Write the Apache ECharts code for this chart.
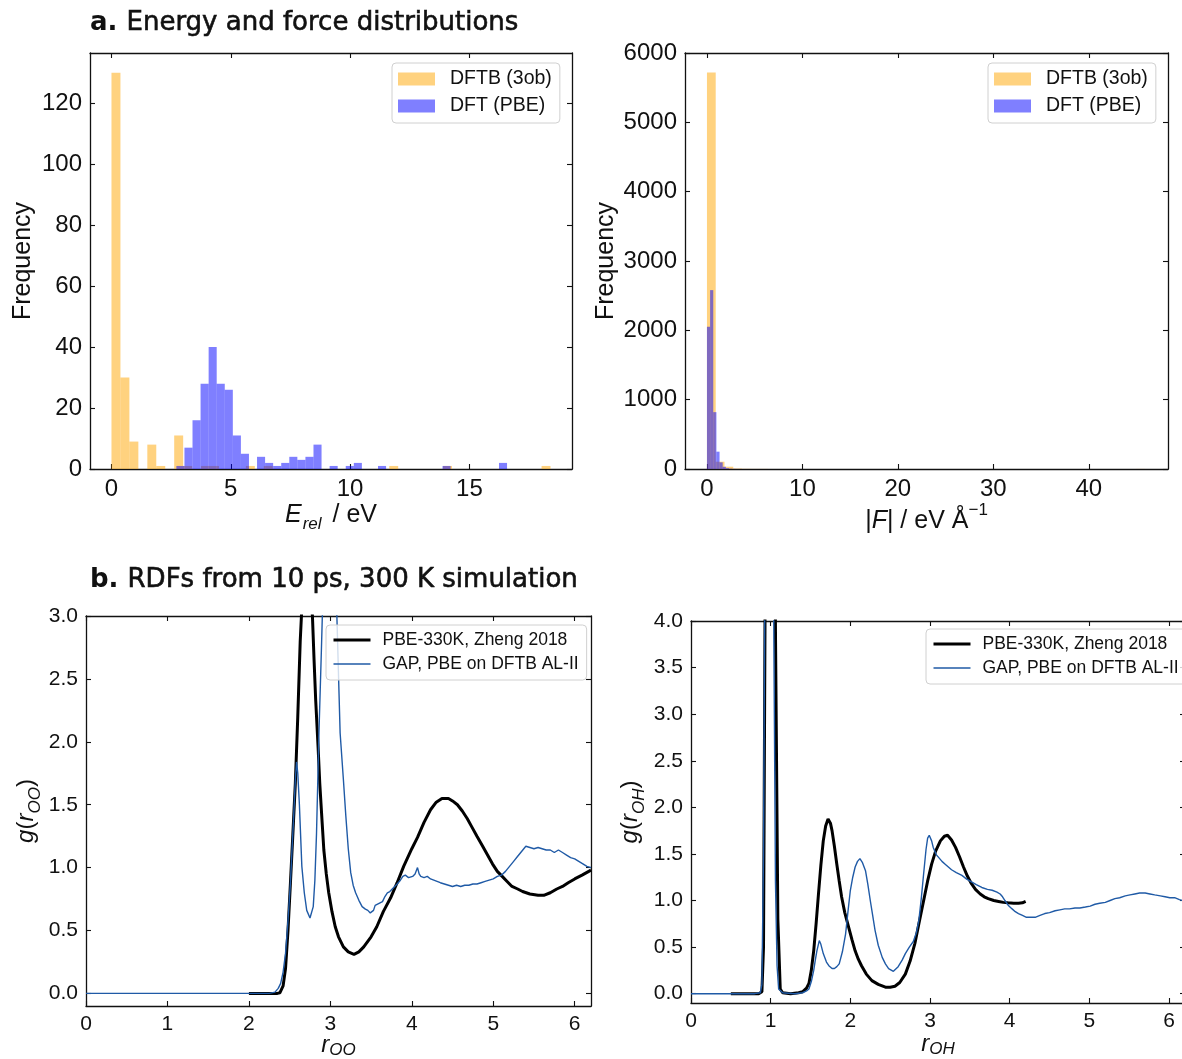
<!DOCTYPE html>
<html><head><meta charset="utf-8">
<script src="https://cdn.jsdelivr.net/npm/echarts@6/dist/echarts.min.js"></script>
<style>html,body{margin:0;padding:0;overflow:hidden;background:#fff}#c{width:1190px;height:1059px}</style>
</head><body><div id="c"></div><script>
// ---------------- DATA ----------------
// Panel a (left): relative energy histograms (bin start, bin width, counts)
const energyDFTB_binStart = 0, energyDFTB_binWidth = 0.3755;
const energyDFTB_counts = [130,30,9,0,8,1,0,11,1,0, 1,1,0,0,0,1,0,1,0,0, 0,0,0,0,0,0,0,0,0,0, 0,1,0,0,0,0,0,1,0,0, 0,0,0,0,0,0,0,0,1];
const energyDFT_binStart = 2.72, energyDFT_binWidth = 0.338;
const energyDFT_counts = [1,7,16,28,40,28,26,11,5,0, 4,2,1,2,4,3,4,8,0,1, 0,1,2,0,0,1,0,0,0,0, 0,0,0,1,0,0,0,0,0,0, 2];
// Panel a (right): force magnitude histograms
const forceDFTB_binStart = 0, forceDFTB_binWidth = 0.918;
const forceDFTB_counts = [5720,105,33,6,2,1,1,0,0,0, 0,0,0,0,0,0,0,0,0,0, 0,0,0,0,0,0,0,0,0,0, 0,0,0,0,0,0,0,0,0,0, 0,0,0,0,0,0,0,0,0,1];
const forceDFT_binStart = 0, forceDFT_binWidth = 0.33;
const forceDFT_counts = [2050,2580,820,250,96,32,12,5,2,1,1];

// Panel b (left): O-O RDF
const rOO_pbe = [2.00,2.20,2.35,2.38,2.42,2.45,2.48,2.51,2.54,2.57,2.60,2.63,2.66,2.70,2.74,2.78,2.80,2.82,2.85,2.87,2.90,2.92,2.95,2.98,3.02,3.06,3.10,3.16,3.22,3.29,3.35,3.41,3.50,3.57,3.65,3.74,3.82,3.90,4.00,4.07,4.15,4.23,4.30,4.37,4.45,4.50,4.56,4.62,4.68,4.74,4.80,4.87,4.93,4.99,5.05,5.11,5.17,5.23,5.30,5.36,5.45,5.55,5.62,5.70,5.78,5.85,5.92,6.00,6.09,6.20];
const gOO_pbe = [0,0,0,0.005,0.06,0.2,0.5,0.88,1.27,1.67,2.2,2.8,3.2,3.35,3.3,3.0,2.65,2.33,1.95,1.67,1.35,1.14,0.95,0.80,0.65,0.53,0.45,0.37,0.33,0.31,0.33,0.37,0.45,0.53,0.65,0.76,0.88,1.01,1.15,1.24,1.36,1.46,1.52,1.55,1.55,1.53,1.50,1.45,1.39,1.32,1.25,1.17,1.10,1.03,0.97,0.93,0.89,0.85,0.83,0.81,0.79,0.78,0.78,0.80,0.83,0.85,0.88,0.91,0.94,0.98];
const rOO_gap = [0,1.0,2.0,2.25,2.32,2.36,2.39,2.42,2.45,2.48,2.51,2.53,2.55,2.57,2.585,2.60,2.62,2.65,2.68,2.71,2.75,2.79,2.81,2.83,2.86,2.89,2.91,2.94,2.98,3.02,3.05,3.08,3.12,3.16,3.19,3.22,3.25,3.28,3.31,3.35,3.39,3.43,3.46,3.49,3.51,3.53,3.55,3.58,3.61,3.64,3.67,3.70,3.73,3.76,3.78,3.82,3.86,3.89,3.92,3.96,4.01,4.04,4.07,4.09,4.11,4.15,4.19,4.23,4.27,4.31,4.35,4.40,4.45,4.50,4.55,4.60,4.65,4.70,4.75,4.80,4.85,4.90,4.95,5.00,5.05,5.10,5.15,5.20,5.25,5.30,5.35,5.40,5.45,5.50,5.55,5.60,5.65,5.70,5.75,5.80,5.85,5.90,5.95,6.00,6.05,6.10,6.15,6.20];
const gOO_gap = [0,0,0,0,0.01,0.04,0.08,0.17,0.32,0.58,0.88,1.15,1.41,1.70,1.84,1.75,1.50,1.01,0.80,0.66,0.60,0.69,0.90,1.27,2.07,2.73,3.2,3.9,4.3,4.1,3.5,3.0,2.07,1.70,1.41,1.15,0.96,0.86,0.80,0.74,0.69,0.67,0.66,0.64,0.63,0.66,0.70,0.71,0.72,0.73,0.77,0.80,0.81,0.83,0.84,0.87,0.90,0.93,0.94,0.92,0.93,0.95,1.00,0.95,0.93,0.92,0.93,0.91,0.90,0.89,0.88,0.87,0.86,0.85,0.86,0.85,0.86,0.86,0.87,0.87,0.88,0.89,0.90,0.91,0.93,0.94,0.97,1.01,1.05,1.09,1.13,1.17,1.16,1.15,1.16,1.15,1.14,1.14,1.12,1.14,1.12,1.10,1.08,1.07,1.05,1.03,1.01,1.00];

// Panel b (right): O-H RDF
const rOH_pbe = [0.50,0.85,0.89,0.91,0.93,0.96,1.00,1.03,1.06,1.09,1.12,1.15,1.25,1.35,1.40,1.45,1.48,1.51,1.54,1.57,1.60,1.63,1.66,1.69,1.72,1.75,1.77,1.80,1.83,1.86,1.89,1.93,1.98,2.02,2.06,2.10,2.14,2.20,2.27,2.35,2.44,2.50,2.56,2.62,2.69,2.75,2.81,2.86,2.92,2.97,3.02,3.07,3.13,3.18,3.22,3.27,3.32,3.37,3.42,3.47,3.52,3.57,3.63,3.68,3.73,3.80,3.86,3.92,3.98,4.05,4.11,4.16,4.20];
const gOH_pbe = [0,0,0.02,0.5,4.2,12,14,10,3.9,0.8,0.05,0.01,0,0.01,0.02,0.06,0.11,0.25,0.46,0.75,1.07,1.38,1.64,1.80,1.875,1.83,1.75,1.58,1.39,1.21,1.04,0.87,0.71,0.58,0.46,0.37,0.30,0.21,0.14,0.10,0.07,0.07,0.08,0.12,0.21,0.35,0.54,0.75,1.00,1.21,1.39,1.53,1.64,1.69,1.70,1.65,1.57,1.47,1.36,1.26,1.18,1.12,1.07,1.04,1.02,1.00,0.99,0.98,0.975,0.97,0.97,0.975,0.99];
const rOH_gap = [0,0.80,0.87,0.89,0.91,0.93,0.97,1.00,1.02,1.04,1.06,1.08,1.10,1.15,1.30,1.40,1.45,1.48,1.51,1.54,1.56,1.58,1.61,1.63,1.66,1.70,1.73,1.77,1.80,1.83,1.86,1.90,1.94,1.97,2.00,2.03,2.06,2.09,2.12,2.15,2.19,2.22,2.25,2.28,2.31,2.35,2.40,2.44,2.48,2.54,2.60,2.65,2.69,2.74,2.79,2.83,2.86,2.89,2.92,2.95,2.97,2.99,3.02,3.04,3.08,3.11,3.15,3.19,3.23,3.27,3.33,3.40,3.46,3.52,3.58,3.65,3.72,3.78,3.84,3.88,3.91,3.94,3.98,4.03,4.07,4.11,4.16,4.21,4.26,4.32,4.38,4.44,4.50,4.57,4.63,4.69,4.75,4.82,4.88,4.95,5.01,5.07,5.13,5.20,5.26,5.32,5.38,5.45,5.51,5.57,5.63,5.70,5.76,5.82,5.89,5.95,6.01,6.07,6.13,6.20];
const gOH_gap = [0,0,0.01,0.1,1.5,5,13,15,8,3.8,1.2,0.3,0.05,0.01,0,0.01,0.03,0.05,0.13,0.25,0.36,0.46,0.57,0.53,0.43,0.34,0.30,0.27,0.27,0.29,0.32,0.45,0.64,0.88,1.11,1.25,1.36,1.42,1.45,1.41,1.32,1.17,1.00,0.84,0.68,0.52,0.39,0.32,0.27,0.24,0.29,0.36,0.43,0.50,0.56,0.66,0.79,1.02,1.29,1.55,1.67,1.70,1.64,1.57,1.49,1.46,1.42,1.39,1.36,1.33,1.30,1.27,1.23,1.20,1.17,1.14,1.12,1.11,1.09,1.07,1.04,1.00,0.95,0.91,0.88,0.86,0.84,0.82,0.82,0.82,0.84,0.86,0.87,0.89,0.90,0.91,0.91,0.92,0.92,0.93,0.94,0.96,0.97,0.98,1.00,1.02,1.03,1.05,1.06,1.07,1.08,1.08,1.07,1.06,1.05,1.04,1.03,1.03,1.01,0.99];

// tick values
const eTicksX = [0,5,10,15], eTicksY = [0,20,40,60,80,100,120];
const fTicksX = [0,10,20,30,40], fTicksY = [0,1000,2000,3000,4000,5000,6000];
const rTicksX = [0,1,2,3,4,5,6];
const gOOTicksY = [0,0.5,1.0,1.5,2.0,2.5,3.0], gOHTicksY = [0,0.5,1.0,1.5,2.0,2.5,3.0,3.5,4.0];

const legendBars = ['DFTB (3ob)','DFT (PBE)'];
const legendLines = ['PBE-330K, Zheng 2018','GAP, PBE on DFTB AL-II'];

// ---------------- BUILD ----------------
const FONT = '"Liberation Sans", Arial, Helvetica, sans-serif';
const ORANGE = 'rgba(255,165,0,0.5)', BLUE = 'rgba(0,0,255,0.5)';
const GAPBLUE = '#1f5aa6';
const INK = '#111';

function bins(start, width, counts){
  return counts.map((c,i)=>[start+i*width, start+(i+1)*width, c]);
}
function zip(xs, ys){ return xs.map((x,i)=>[x, ys[i]]); }

function histRender(params, api){
  const c = api.value(2);
  if (!c) return null;
  const p0 = api.coord([api.value(0), 0]);
  const p1 = api.coord([api.value(1), c]);
  return {type:'rect', shape:{x:p0[0], y:p1[1], width:p1[0]-p0[0], height:p0[1]-p1[1]},
    style:{fill: api.visual('color')}};
}

const grids = [
  {left:90, top:53, width:482, height:416, outerBoundsMode:'none', containLabel:false},
  {left:685, top:53, width:483, height:416, outerBoundsMode:'none', containLabel:false},
  {left:86, top:616, width:505, height:390, outerBoundsMode:'none', containLabel:false},
  {left:691, top:621, width:494, height:382, outerBoundsMode:'none', containLabel:false}
];

const axLine = {show:true, onZero:false, lineStyle:{color:INK, width:1.3}};
const tickIn = (vals)=>({show:true, inside:true, length:5, lineStyle:{color:INK, width:1.1}, customValues: vals});

function xPair(gi, min, max, ticks, fs, fmt, name, nameGap, noMove){
  const main = {type:'value', gridIndex:gi, position:'bottom', min, max, splitLine:{show:false},
     axisLine:axLine, axisTick:tickIn(ticks),
     axisLabel:{show:true, customValues:ticks, fontSize:fs, color:INK, fontFamily:FONT, margin:8, formatter:fmt},
     name:name.text, nameLocation:'middle', nameGap:nameGap, nameTextStyle:name.style};
  if (noMove) main.nameMoveOverlap = false;
  return [main,
    {type:'value', gridIndex:gi, position:'top', min, max, splitLine:{show:false},
     axisLine:axLine, axisTick:tickIn(ticks), axisLabel:{show:false}}
  ];
}
function yPair(gi, min, max, ticks, fs, fmt, name, nameGap){
  return [
    {type:'value', gridIndex:gi, position:'left', min, max, splitLine:{show:false},
     axisLine:axLine, axisTick:tickIn(ticks),
     axisLabel:{show:true, customValues:ticks, fontSize:fs, color:INK, fontFamily:FONT, margin:8, formatter:fmt},
     name:name.text, nameLocation:'middle', nameGap:nameGap, nameRotate:90, nameTextStyle:name.style},
    {type:'value', gridIndex:gi, position:'right', min, max, splitLine:{show:false},
     axisLine:axLine, axisTick:tickIn(ticks), axisLabel:{show:false}}
  ];
}
const intFmt = v => String(Math.round(v));
const oneDec = v => v.toFixed(1);

const nameE = {text:'{i|E}{s|rel}{n| / eV}', style:{fontFamily:FONT, color:INK, rich:{
  i:{fontSize:25, fontStyle:'italic', fontFamily:FONT, color:INK, verticalAlign:'top', lineHeight:30},
  s:{fontSize:17, fontStyle:'italic', fontFamily:FONT, color:INK, verticalAlign:'bottom', lineHeight:30, padding:[0,4,0,1]},
  n:{fontSize:25, fontFamily:FONT, color:INK, verticalAlign:'top', lineHeight:30}}}};
const nameF = {text:'{n||}{i|F}{n|| / eV Å}{s|−1}', style:{fontFamily:FONT, color:INK, rich:{
  i:{fontSize:25, fontStyle:'italic', fontFamily:FONT, color:INK, verticalAlign:'bottom', lineHeight:32},
  n:{fontSize:25, fontFamily:FONT, color:INK, verticalAlign:'bottom', lineHeight:32},
  s:{fontSize:17, fontFamily:FONT, color:INK, verticalAlign:'top', lineHeight:32}}}};
const nameFreq = {text:'Frequency', style:{fontSize:25, fontFamily:FONT, color:INK}};
function gName(sub){ return {text:'{i|g}{n|(}{i|r}{s|'+sub+'}{n|)}', style:{fontFamily:FONT, color:INK, rich:{
  i:{fontSize:24, fontStyle:'italic', fontFamily:FONT, color:INK, verticalAlign:'top', lineHeight:30},
  n:{fontSize:24, fontFamily:FONT, color:INK, verticalAlign:'top', lineHeight:30},
  s:{fontSize:17, fontStyle:'italic', fontFamily:FONT, color:INK, verticalAlign:'bottom', lineHeight:30}}}}; }
function rName(sub){ return {text:'{i|r}{s|'+sub+'}', style:{fontFamily:FONT, color:INK, rich:{
  i:{fontSize:24, fontStyle:'italic', fontFamily:FONT, color:INK, verticalAlign:'top', lineHeight:26},
  s:{fontSize:17, fontStyle:'italic', fontFamily:FONT, color:INK, verticalAlign:'bottom', lineHeight:26}}}}; }

const xAxis = [].concat(
  xPair(0, -0.9, 19.3, eTicksX, 24, intFmt, nameE, 34, false),
  xPair(1, -2.3, 48.3, fTicksX, 24, intFmt, nameF, 33, false),
  xPair(2, 0, 6.2, rTicksX, 21, intFmt, rName('OO'), 27, true),
  xPair(3, 0, 6.2, rTicksX, 21, intFmt, rName('OH'), 29, true)
);
const yAxis = [].concat(
  yPair(0, 0, 136.5, eTicksY, 24, intFmt, nameFreq, 54),
  yPair(1, 0, 6000, fTicksY, 24, intFmt, nameFreq, 66),
  yPair(2, -0.1, 3.0, gOOTicksY, 21, oneDec, gName('OO'), 42),
  yPair(3, -0.1, 4.0, gOHTicksY, 21, oneDec, gName('OH'), 43)
);

function histSeries(name, gi, data, color){
  return {type:'custom', name, xAxisIndex:gi*2, yAxisIndex:gi*2, renderItem:histRender,
    itemStyle:{color}, encode:{x:[0,1], y:2}, data, clip:true, silent:true};
}
function lineSeries(name, gi, data, color, width, z){
  return {type:'line', name, xAxisIndex:gi*2, yAxisIndex:gi*2, data, symbol:'none', showSymbol:false,
    clip:true, silent:true, z, lineStyle:{color, width}, itemStyle:{color}, animation:false};
}

const PBE_W = 3, GAP_W = 1.4;
const series = [
  histSeries(legendBars[0], 0, bins(energyDFTB_binStart, energyDFTB_binWidth, energyDFTB_counts), ORANGE),
  histSeries(legendBars[1], 0, bins(energyDFT_binStart, energyDFT_binWidth, energyDFT_counts), BLUE),
  histSeries(legendBars[0], 1, bins(forceDFTB_binStart, forceDFTB_binWidth, forceDFTB_counts), ORANGE),
  histSeries(legendBars[1], 1, bins(forceDFT_binStart, forceDFT_binWidth, forceDFT_counts), BLUE),
  lineSeries(legendLines[0], 2, zip(rOO_pbe, gOO_pbe), '#000', PBE_W, 2),
  lineSeries(legendLines[1], 2, zip(rOO_gap, gOO_gap), GAPBLUE, GAP_W, 3),
  lineSeries(legendLines[0], 3, zip(rOH_pbe, gOH_pbe), '#000', PBE_W, 2),
  lineSeries(legendLines[1], 3, zip(rOH_gap, gOH_gap), GAPBLUE, GAP_W, 3)
];

function legendBox(left, top, names, fs, isLine, gap, pad){
  const lg = {left, top, orient:'vertical', selectedMode:false,
    data:names.map((n,i)=>isLine?{name:n, lineStyle:{width: i===0?PBE_W:GAP_W, color: i===0?'#000':GAPBLUE}}:{name:n, icon:'rect'}),
    itemWidth:37, itemHeight:13, itemGap:gap,
    textStyle:{fontSize:fs, fontFamily:FONT, color:INK, padding:[0,0,0,pad]},
    borderColor:'#d0d0d0', borderWidth:1, borderRadius:4,
    padding:[6,8,7,6], backgroundColor:'rgba(255,255,255,0.8)'};
  if (isLine) lg.itemStyle = {opacity:0};
  return lg;
}

const TFONT = '"DejaVu Sans", sans-serif';
const titleRich = {
  b:{fontSize:26, fontWeight:'bold', fontFamily:TFONT, fill:INK},
  m:{fontSize:26, fontFamily:TFONT, fill:INK, stroke:INK, lineWidth:0.6}
};
const option = {
  animation:false,
  backgroundColor:'#fff',
  grid: grids,
  xAxis, yAxis, series,
  legend:[
    legendBox(392, 63, legendBars, 19.5, false, 7, 10),
    legendBox(988, 63, legendBars, 19.5, false, 7, 10),
    legendBox(326, 625, legendLines, 17.5, true, 6, 7),
    legendBox(926, 629, legendLines, 17.5, true, 6, 7)
  ],
  graphic:[
    {type:'text', left:90, top:10, style:{text:'{b|a. }{m|Energy and force distributions}', rich:titleRich}},
    {type:'text', left:90, top:567, style:{text:'{b|b. }{m|RDFs from 10 ps, 300 K simulation}', rich:titleRich}}
  ]
};
const chart = echarts.init(document.getElementById('c'), null, {renderer:'canvas'});
chart.setOption(option);
</script></body></html>
